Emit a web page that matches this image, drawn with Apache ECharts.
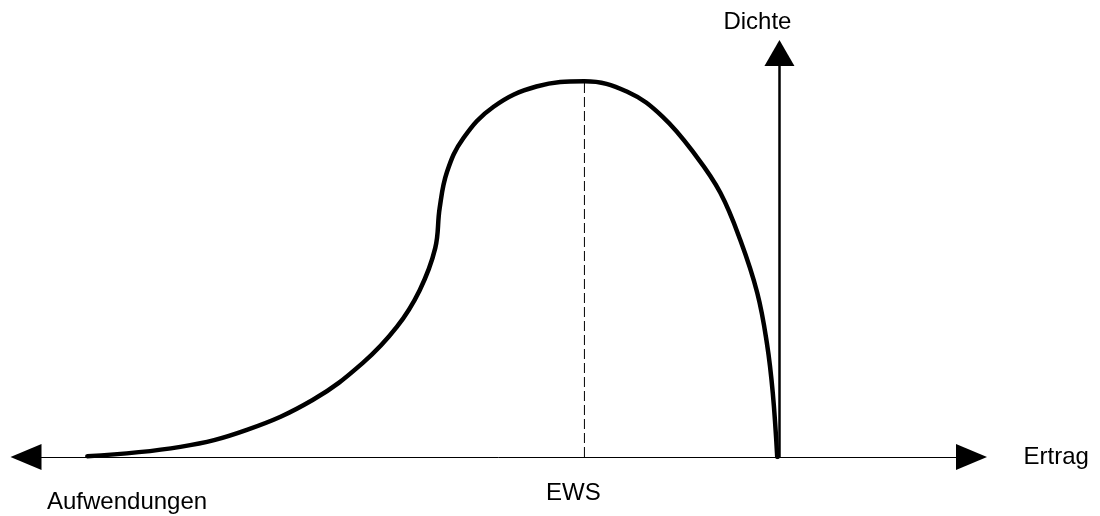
<!DOCTYPE html>
<html>
<head>
<meta charset="utf-8">
<script src="https://cdn.jsdelivr.net/npm/echarts@6/dist/echarts.min.js"></script>
<style>
  html, body { margin: 0; padding: 0; background: #fff; }
  #main { width: 1100px; height: 516px; }
</style>
</head>
<body>
<div id="main"></div>
<script>
// Kurve (Dichte ueber Ertrag)
var curveX = [-93.7, -81.1, -72.1, -63.2, -56.4, -51.8, -48.7, -46.6, -46.0, -45.0, -42.8, -38.7, -32.9, -26.4,
              -20.6, -15.8, -11.2, -8.0, -5.3, -3.0, -1.7, -0.9, -0.3];
var curveY = [0.2, 2.5, 6.7, 14.1, 23.3, 32.2, 41.3, 51.7, 61.6, 70.6, 78.9, 86.7, 91.7, 93.0,
              90.4, 84.2, 74.3, 65.4, 53.7, 40.6, 28.2, 15.8, 0];
var ewsX = -26.4;      // Lage des Maximums
var ewsY = 93.0;
var tickLabels = ['EWS'];

var FONT = 'Liberation Sans, Arial, sans-serif';

var myChart = echarts.init(document.getElementById('main'));

var curveData = [];
for (var i = 0; i < curveX.length; i++) {
  curveData.push([curveX[i], curveY[i]]);
}

var option = {
  animation: false,
  grid: {
    left: 26,
    right: 128.5,
    top: 53,
    bottom: 59,
    outerBoundsMode: 'none'
  },
  xAxis: {
    type: 'value',
    min: -102,
    max: 26,
    name: 'Ertrag',
    nameLocation: 'end',
    nameGap: 52,
    nameTextStyle: { fontFamily: FONT, fontSize: 24, color: '#000', padding: [2, 0, 0, 0] },
    axisLine: {
      show: true,
      onZero: false,
      symbol: ['triangle', 'triangle'],
      symbolSize: [26, 31],
      lineStyle: { color: '#000', width: 1 }
    },
    axisTick: { show: false },
    splitLine: { show: false },
    axisLabel: {
      show: true,
      customValues: [ewsX],
      formatter: function () { return tickLabels[0]; },
      margin: 24,
      padding: [0, 22, 0, 0],
      fontFamily: FONT,
      fontSize: 24,
      color: '#000'
    }
  },
  yAxis: {
    type: 'value',
    min: 0,
    max: 100,
    name: 'Dichte',
    nameLocation: 'end',
    nameGap: 19,
    nameTextStyle: { fontFamily: FONT, fontSize: 24, color: '#000', padding: [0, 44, 0, 0] },
    axisLine: {
      show: true,
      onZero: true,
      symbol: ['none', 'triangle'],
      symbolSize: [30, 26],
      lineStyle: { color: '#000', width: 2.5 }
    },
    axisTick: { show: false },
    axisLabel: { show: false },
    splitLine: { show: false }
  },
  graphic: [
    {
      type: 'text',
      left: 47,
      top: 490,
      style: { text: 'Aufwendungen', font: '24px ' + FONT, fill: '#000' }
    }
  ],
  series: [
    {
      name: 'EWS',
      type: 'line',
      data: [[ewsX, 0], [ewsX, ewsY]],
      symbol: 'none',
      silent: true,
      lineStyle: { color: '#000', width: 1, type: [10, 4] }
    },
    {
      name: 'Dichte',
      type: 'line',
      data: curveData,
      symbol: 'none',
      smooth: 0.4,
      lineStyle: { color: '#000', width: 4.5, cap: 'round', join: 'round' }
    }
  ]
};

myChart.setOption(option);
</script>
</body>
</html>
